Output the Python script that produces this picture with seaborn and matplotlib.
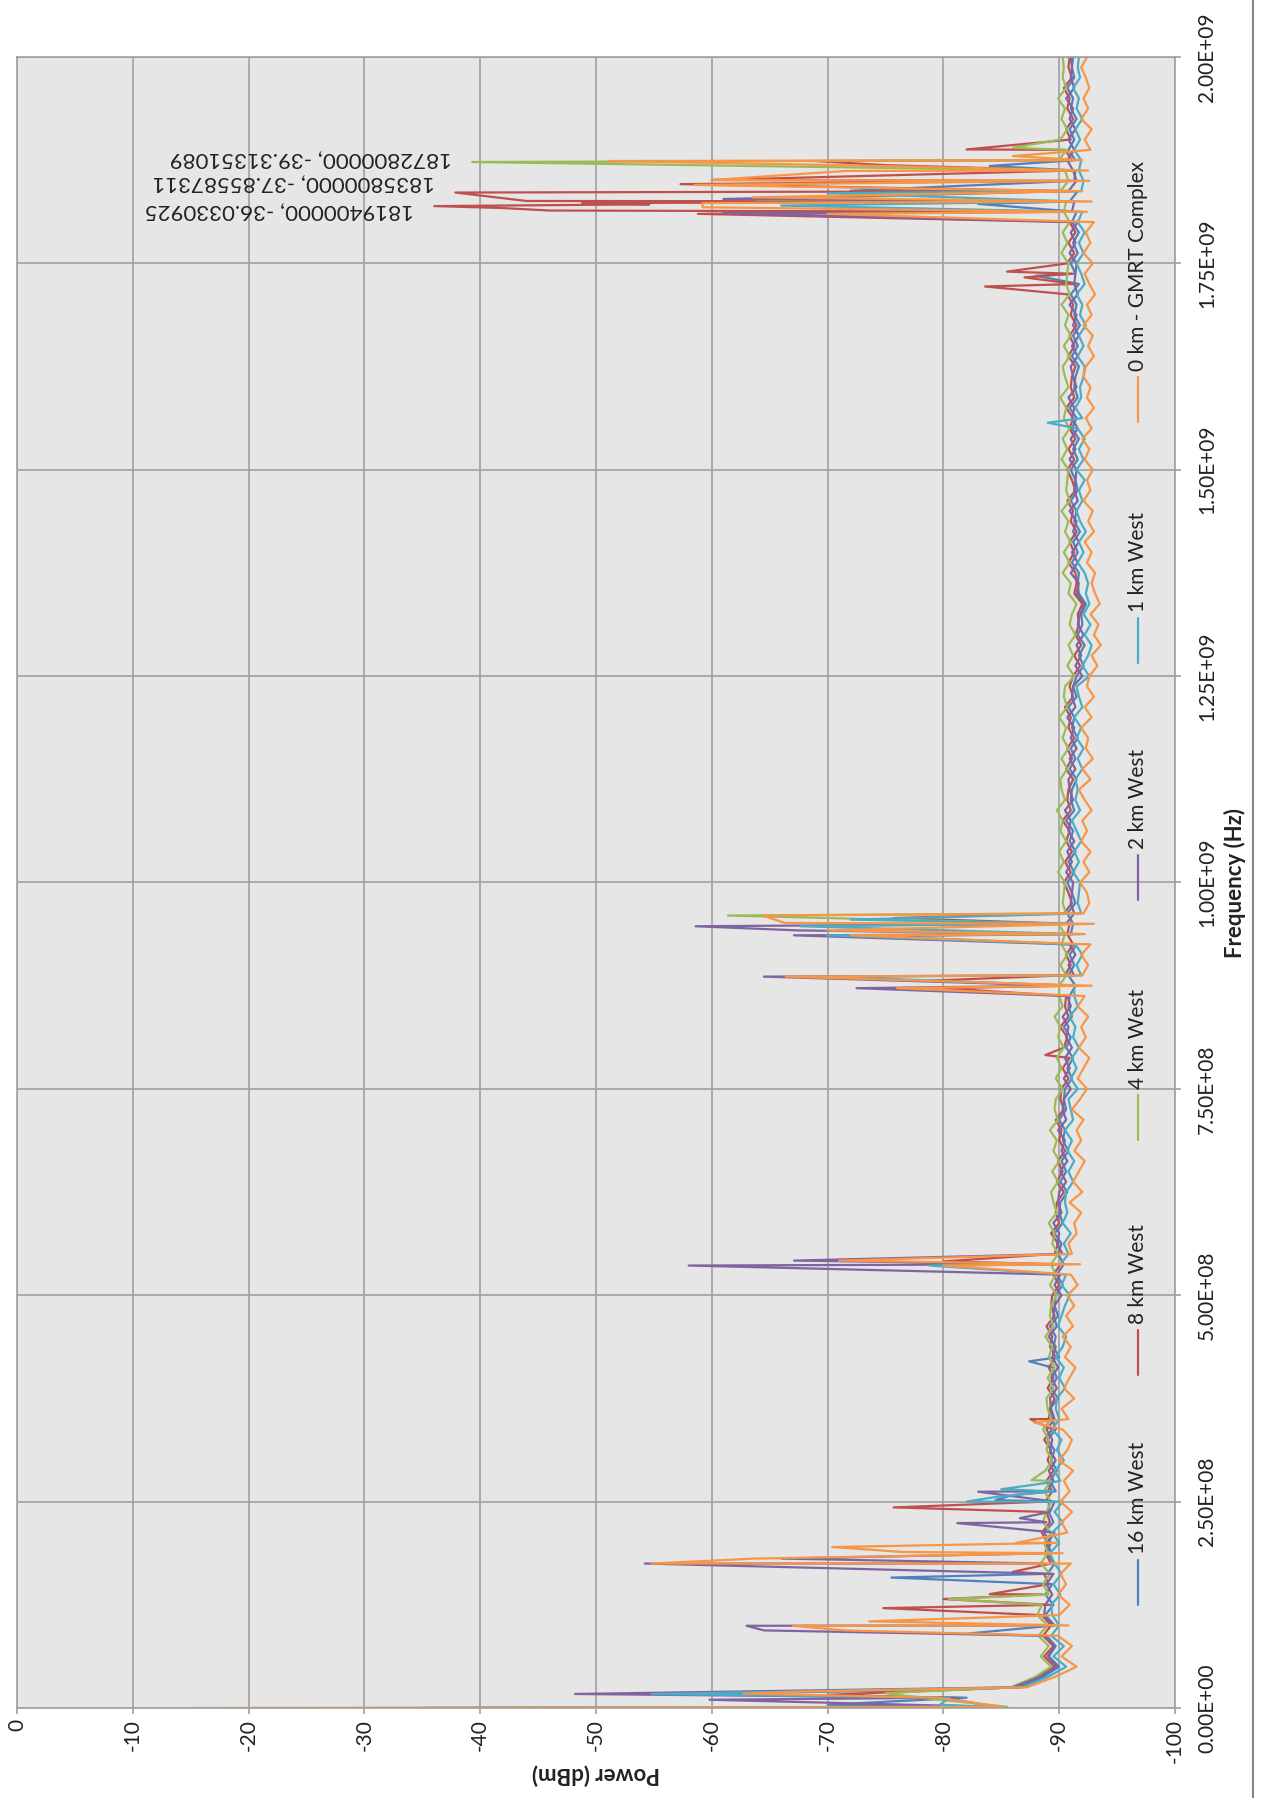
import numpy as np
import pandas as pd
import matplotlib
matplotlib.use("Agg")
import matplotlib.pyplot as plt
from matplotlib.lines import Line2D
import seaborn as sns

# ---------------------------------------------------------------- data
series_names = ["16 km West", "8 km West", "4 km West", "2 km West",
                "1 km West", "0 km - GMRT Complex"]
series_colors = ["#4F81BD", "#C0504D", "#9BBB59", "#8064A2", "#4BACC6", "#F79646"]

# sweep points (MHz), 12.5 MHz steps from 0 to 2 GHz
sweep_mhz = np.arange(0, 2000.1, 12.5)

base_16km = [
    -36.0, -82.0, -86.5, -88.6, -90.0, -89.1, -89.7, -88.9, -89.6, -88.8,
    -89.5, -88.8, -89.4, -89.0, -89.6, -88.9, -89.3, -88.7, -89.5, -89.1,
    -89.1, -89.7, -89.2, -89.8, -89.3, -89.6, -89.0, -89.7, -89.4, -89.2,
    -89.9, -89.3, -89.8, -89.4, -90.0, -89.5, -89.7, -89.2, -89.9, -89.6,
    -89.7, -90.3, -89.8, -90.4, -89.9, -90.2, -89.6, -90.3, -90.0, -90.1,
    -90.7, -90.1, -90.6, -90.2, -90.8, -90.3, -90.5, -90.0, -90.6, -90.4,
    -90.5, -91.1, -90.7, -91.2, -90.6, -91.0, -90.4, -91.1, -90.8, -90.9,
    -91.4, -90.8, -91.3, -90.9, -91.5, -91.0, -91.2, -90.7, -91.4, -91.1,
    -90.7, -91.3, -90.8, -91.4, -90.9, -91.2, -90.6, -91.3, -91.0, -91.1,
    -91.5, -90.9, -91.4, -91.0, -91.6, -91.1, -91.3, -90.8, -91.5, -91.2,
    -91.5, -92.1, -91.7, -92.2, -91.6, -92.0, -91.9, -92.3, -91.7, -91.6,
    -91.7, -91.1, -91.6, -91.2, -91.8, -91.3, -91.5, -91.0, -91.6, -91.4,
    -91.0, -91.6, -91.2, -91.7, -91.1, -91.5, -90.9, -91.6, -91.3, -91.4,
    -91.7, -91.1, -91.6, -91.2, -91.8, -91.3, -91.5, -91.0, -91.7, -91.4,
    -91.0, -91.6, -91.2, -91.7, -91.1, -91.5, -90.9, -91.6, -91.3, -91.4,
    -91.4, -90.8, -91.3, -90.9, -91.5, -91.0, -91.2, -90.7, -91.3, -91.1,
    -91.2,
]
base_8km = [
    -40.0, -80.0, -86.2, -88.1, -89.6, -88.7, -89.5, -88.6, -89.3, -88.5,
    -89.2, -88.6, -89.1, -88.7, -89.3, -88.8, -89.0, -88.5, -89.2, -88.9,
    -88.8, -89.4, -88.9, -89.5, -89.0, -89.3, -88.7, -89.4, -89.1, -89.2,
    -89.6, -89.0, -89.5, -89.1, -89.7, -89.2, -89.4, -88.9, -89.6, -89.3,
    -89.4, -90.0, -89.5, -90.1, -89.6, -89.9, -89.3, -90.0, -89.7, -89.8,
    -90.4, -89.8, -90.3, -89.9, -90.5, -90.0, -90.2, -89.7, -90.4, -90.1,
    -90.2, -90.8, -90.3, -90.9, -90.4, -90.7, -90.1, -90.8, -90.5, -90.6,
    -91.1, -90.5, -91.0, -90.6, -91.2, -90.7, -90.9, -90.4, -91.1, -90.8,
    -90.4, -91.0, -90.5, -91.1, -90.6, -90.9, -90.3, -91.0, -90.7, -90.8,
    -91.2, -90.6, -91.1, -90.7, -91.3, -90.8, -91.0, -90.5, -91.2, -90.9,
    -91.2, -91.8, -91.3, -91.9, -91.4, -91.7, -91.6, -92.0, -91.3, -91.5,
    -91.4, -90.8, -91.3, -90.9, -91.5, -91.0, -91.2, -90.7, -91.4, -91.1,
    -90.7, -91.3, -90.8, -91.4, -90.9, -91.2, -90.6, -91.3, -91.0, -91.1,
    -91.4, -90.8, -91.3, -90.9, -91.5, -91.0, -91.2, -90.7, -91.4, -91.1,
    -90.7, -91.3, -90.8, -91.4, -90.9, -91.2, -90.6, -91.3, -91.0, -91.1,
    -91.1, -90.5, -91.0, -90.6, -91.2, -90.7, -90.9, -90.4, -91.1, -90.8,
    -90.9,
]
base_4km = [
    -42.0, -78.0, -85.8, -87.9, -89.3, -88.4, -89.1, -88.2, -89.0, -88.1,
    -88.5, -89.1, -88.6, -89.2, -88.4, -89.0, -88.7, -89.3, -88.6, -88.9,
    -89.3, -88.7, -89.2, -88.8, -89.4, -88.9, -89.1, -88.6, -89.3, -89.0,
    -88.9, -89.5, -89.0, -89.6, -89.1, -89.4, -88.8, -89.5, -89.2, -89.3,
    -89.8, -89.2, -89.7, -89.3, -89.9, -89.4, -89.6, -89.1, -89.8, -89.5,
    -89.3, -89.9, -89.4, -90.0, -89.5, -89.8, -89.2, -89.9, -89.6, -89.7,
    -90.3, -89.7, -90.2, -89.8, -90.4, -89.9, -90.1, -89.6, -90.3, -90.0,
    -90.0, -90.6, -90.1, -90.7, -90.2, -90.5, -89.9, -90.6, -90.3, -90.4,
    -90.5, -89.9, -90.4, -90.0, -90.6, -90.1, -90.3, -89.8, -90.5, -90.2,
    -90.1, -90.7, -90.2, -90.8, -90.3, -90.6, -90.0, -90.7, -90.4, -90.5,
    -91.3, -90.7, -91.2, -90.8, -91.4, -90.9, -91.1, -91.5, -90.8, -91.0,
    -90.3, -90.9, -90.4, -91.0, -90.5, -90.8, -90.2, -90.9, -90.6, -90.7,
    -90.8, -90.2, -90.7, -90.3, -90.9, -90.4, -90.6, -90.1, -90.8, -90.5,
    -90.3, -90.9, -90.4, -91.0, -90.5, -90.8, -90.2, -90.9, -90.6, -90.7,
    -90.8, -90.2, -90.7, -90.3, -90.9, -90.4, -90.6, -90.1, -90.8, -90.5,
    -90.0, -90.6, -90.1, -90.7, -90.2, -90.5, -89.9, -90.6, -90.3, -90.4,
    -90.3,
]
base_2km = [
    -35.0, -81.0, -86.0, -88.3, -89.8, -89.0, -89.6, -88.8, -89.5, -88.7,
    -88.8, -89.4, -88.9, -89.5, -88.7, -89.3, -89.0, -89.6, -88.9, -89.2,
    -89.6, -89.0, -89.5, -89.1, -89.7, -89.2, -89.4, -88.9, -89.6, -89.3,
    -89.2, -89.8, -89.3, -89.9, -89.4, -89.7, -89.1, -89.8, -89.5, -89.6,
    -90.2, -89.6, -90.1, -89.7, -90.3, -89.8, -90.0, -89.5, -90.2, -89.9,
    -90.0, -90.6, -90.1, -90.7, -90.2, -90.5, -89.9, -90.6, -90.3, -90.4,
    -91.0, -90.4, -90.9, -90.5, -91.1, -90.6, -90.8, -90.3, -91.0, -90.7,
    -90.7, -91.3, -90.8, -91.4, -90.9, -91.2, -90.6, -91.3, -91.0, -91.1,
    -91.2, -90.6, -91.1, -90.7, -91.3, -90.8, -91.0, -90.5, -91.2, -90.9,
    -90.8, -91.4, -90.9, -91.5, -91.0, -91.3, -90.7, -91.4, -91.1, -91.2,
    -92.0, -91.4, -91.9, -91.5, -92.1, -91.6, -91.8, -92.2, -91.5, -91.7,
    -91.0, -91.6, -91.1, -91.7, -91.2, -91.5, -90.9, -91.6, -91.3, -91.4,
    -91.5, -90.9, -91.4, -91.0, -91.6, -91.1, -91.3, -90.8, -91.5, -91.2,
    -91.0, -91.6, -91.1, -91.7, -91.2, -91.5, -90.9, -91.6, -91.3, -91.4,
    -91.5, -90.9, -91.4, -91.0, -91.6, -91.1, -91.3, -90.8, -91.5, -91.2,
    -90.7, -91.3, -90.8, -91.4, -90.9, -91.2, -90.6, -91.3, -91.0, -91.1,
    -91.0,
]
base_1km = [
    -33.5, -80.5, -86.8, -89.0, -90.6, -89.5, -90.4, -89.3, -90.0, -89.4,
    -89.3, -90.1, -89.5, -90.2, -89.6, -89.2, -90.0, -89.4, -90.3, -89.6,
    -90.3, -89.5, -90.1, -89.6, -90.4, -89.8, -90.2, -89.4, -90.0, -89.7,
    -89.8, -90.5, -90.0, -90.4, -89.7, -90.3, -90.6, -89.9, -90.2, -90.5,
    -90.9, -90.2, -90.6, -90.1, -90.8, -90.4, -91.0, -90.3, -90.7, -90.5,
    -90.6, -91.2, -90.8, -91.3, -90.7, -91.1, -90.5, -91.2, -91.0, -90.8,
    -91.6, -91.0, -91.5, -91.1, -91.7, -91.2, -91.4, -90.9, -91.6, -91.3,
    -91.3, -91.9, -91.5, -92.0, -91.4, -91.8, -91.2, -91.9, -91.6, -91.7,
    -91.8, -91.2, -91.7, -91.3, -91.9, -91.5, -91.1, -91.8, -91.4, -91.6,
    -91.4, -92.0, -91.6, -92.1, -91.5, -91.9, -91.3, -92.0, -91.7, -91.5,
    -92.6, -92.0, -92.5, -92.8, -92.2, -92.7, -92.1, -92.6, -92.3, -92.5,
    -92.2, -91.6, -92.1, -91.7, -92.3, -91.8, -91.5, -92.0, -91.7, -92.2,
    -91.5, -92.1, -91.7, -92.2, -91.6, -92.0, -91.4, -91.9, -91.8, -92.1,
    -92.2, -91.6, -92.1, -91.7, -92.3, -91.8, -92.0, -91.5, -92.2, -91.9,
    -91.5, -92.1, -91.7, -92.2, -91.6, -92.0, -91.4, -91.9, -92.1, -91.7,
    -91.9, -91.3, -91.8, -91.4, -92.0, -91.5, -91.7, -91.2, -91.8, -91.6,
    -91.7,
]
base_0km = [
    -15.4, -79.5, -87.2, -89.6, -91.5, -90.2, -91.1, -89.9, -90.8, -90.0,
    -90.9, -89.9, -90.6, -90.1, -91.0, -90.3, -89.8, -90.7, -90.2, -91.1,
    -90.1, -90.9, -90.4, -91.2, -90.0, -90.7, -91.1, -90.3, -90.8, -90.2,
    -91.3, -90.4, -90.9, -91.4, -90.5, -91.0, -90.3, -91.2, -90.6, -91.3,
    -90.7, -91.6, -91.0, -91.8, -91.1, -90.8, -91.5, -91.3, -91.9, -90.9,
    -92.0, -91.2, -91.7, -92.2, -91.3, -91.9, -91.5, -92.1, -91.1, -91.8,
    -92.4, -91.6, -92.1, -92.6, -91.7, -92.3, -91.9, -92.5, -91.6, -92.2,
    -92.8, -92.0, -92.5, -91.9, -92.7, -92.2, -93.0, -92.1, -92.6, -92.4,
    -91.8, -92.6, -92.1, -92.7, -91.9, -92.4, -92.0, -92.8, -92.2, -91.7,
    -92.7, -92.0, -92.9, -92.3, -92.5, -91.9, -92.8, -92.2, -93.0, -92.4,
    -92.6, -93.3, -92.8, -93.6, -93.0, -93.4, -92.7, -93.5, -93.1, -92.8,
    -93.1, -92.4, -92.8, -92.2, -93.0, -92.5, -92.9, -92.1, -92.7, -92.4,
    -92.9, -92.2, -92.6, -92.0, -92.8, -92.3, -93.0, -92.4, -92.7, -92.1,
    -92.3, -93.0, -92.5, -92.9, -92.1, -92.8, -92.4, -93.1, -92.6, -92.2,
    -92.9, -92.1, -92.7, -92.3, -93.0, -92.4, -92.8, -92.0, -92.6, -92.5,
    -92.0, -92.7, -92.2, -92.8, -91.9, -92.5, -92.1, -92.6, -92.3, -91.9,
    -92.4,
]

# interference peaks per site: (frequency MHz, power dBm)
spikes_16km = [(1.5, -83.0), (4, -70.0), (17, -58.0), (22, -80.0), (90, -82.0),
               (158, -75.5), (252, -84.5), (258, -86.0), (420, -87.4),
               (935, -74.0), (1735, -88.0), (1822, -83.0), (1838, -72.0),
               (1868, -84.0)]
spikes_8km = [(1.5, -84.5), (16, -70.0), (121, -74.8), (132, -80.0), (138, -84.0),
              (165, -86.0), (243, -75.7), (350, -87.5), (541, -80.0), (791, -88.8),
              (872, -80.0), (881, -78.6), (957, -75.7), (1722, -83.6),
              (1733, -87.0), (1740, -85.5), (1810, -58.8), (1814, -46.0),
              (1817, -42.0), (1821.5, -54.6), (1823, -48.8), (1825.6, -44.0),
              (1846, -57.3), (1851, -60.0), (1869, -75.0), (1874, -68.9),
              (1888, -82.0)]
spikes_4km = [(1.5, -85.5), (18, -75.0), (132, -80.5), (276, -87.6), (960, -61.4),
              (1827, -64.0), (1890, -86.0)]
spikes_2km = [(1.5, -84.0), (10, -59.8), (17, -48.2), (94, -64.5), (99.6, -63.0),
              (175, -54.2), (181, -66.0), (224, -81.2), (230, -86.6), (262, -83.0),
              (536, -58.0), (542, -67.1), (872, -72.5), (886, -64.5), (936, -67.1),
              (942, -67.4), (947, -58.6), (1811, -61.0), (1828, -61.0)]
spikes_1km = [(1.5, -84.0), (4, -79.7), (17, -54.8), (250, -82.0), (256, -84.7),
              (265, -85.0), (536, -78.8), (886, -70.0), (936, -69.9), (947, -67.6),
              (955, -72.0), (1557, -89.0), (1820, -66.0), (1835, -70.0)]
spikes_0km = [(1.5, -85.0), (17.5, -62.7), (20, -68.0), (94, -71.5), (99.6, -67.0),
              (105, -73.6), (175, -54.8), (181, -63.7), (189, -76.5), (195, -70.4),
              (200, -86.3), (346, -87.8), (536, -80.0), (542, -71.0), (872, -76.0),
              (886, -66.4), (936, -72.0), (942, -70.0), (951, -66.3), (960, -64.4),
              (1810, -70.0), (1818, -59.2), (1823, -59.2), (1830, -63.5),
              (1840, -80.0), (1845, -58.5), (1851, -60.0), (1862, -71.6),
              (1869, -71.0), (1874, -51.1), (1880, -86.0)]

# labelled maxima (Hz, dBm) and the site each belongs to
peak_freq_hz = [1819400000, 1835800000, 1872800000]
peak_dbm = [-36.0330925, -37.85587311, -39.31351089]
peak_site = ["8 km West", "8 km West", "4 km West"]

baselines = [base_16km, base_8km, base_4km, base_2km, base_1km, base_0km]
spike_sets = [spikes_16km, spikes_8km, spikes_4km, spikes_2km, spikes_1km, spikes_0km]

rows = []
for name, base, spikes in zip(series_names, baselines, spike_sets):
    for f, p in zip(sweep_mhz, base):
        rows.append((name, f * 1e6, p))
    for f, p in spikes:
        rows.append((name, f * 1e6, p))
for f, p, site in zip(peak_freq_hz, peak_dbm, peak_site):
    rows.append((site, float(f), p))
df = pd.DataFrame(rows, columns=["site", "freq", "dbm"])

# ---------------------------------------------------------------- style
sns.set_style("white", {"axes.facecolor": "#e6e6e6",
                        "axes.edgecolor": "#a0a0a0",
                        "grid.color": "#a0a0a0"})
plt.rcParams["font.family"] = ["Lato", "DejaVu Sans"]
text_color = "#222222"

W, H = 1262, 1798
fig = plt.figure(figsize=(W / 100, H / 100), dpi=100)
fig.patch.set_facecolor("white")
ax = fig.add_axes([17 / W, 90 / H, 1158 / W, 1651 / H])

for name, color in zip(series_names, series_colors):
    d = df[df["site"] == name].sort_values("freq")
    sns.lineplot(x=d["dbm"].to_numpy(), y=d["freq"].to_numpy(), orient="y",
                 sort=False, estimator=None, color=color, lw=1.6, ax=ax,
                 legend=False)

# axes: power runs left-to-right (0 .. -100), frequency bottom-to-top
ax.set_xlim(0, -100)
ax.set_ylim(0, 2e9)
power_ticks = list(range(0, -101, -10))
freq_ticks = [i * 2.5e8 for i in range(9)]
ax.set_xticks(power_ticks)
ax.set_xticklabels([str(t) for t in power_ticks])
ax.set_yticks(freq_ticks)
ax.set_yticklabels([f"{t:.2E}" for t in freq_ticks])
ax.grid(True, color="#a0a0a0", lw=1.2)
ax.set_axisbelow(True)
for s in ax.spines.values():
    s.set_color("#a0a0a0")
    s.set_linewidth(1.2)

ax.yaxis.tick_right()
ax.tick_params(axis="x", bottom=True, top=False, direction="out", length=4,
               width=1.2, color="#a0a0a0", labelsize=15, labelcolor=text_color,
               labelrotation=90, pad=4)
ax.tick_params(axis="y", right=True, left=False, direction="out", length=4,
               width=1.2, color="#a0a0a0", labelsize=15, labelcolor=text_color,
               labelrotation=90, pad=12)
for lbl in ax.get_yticklabels():
    lbl.set_verticalalignment("center")
    lbl.set_horizontalalignment("left")

ax.set_xlabel("Power (dBm)", fontsize=16, fontweight="bold", color=text_color,
              rotation=180)
ax.xaxis.set_label_coords(0.5, -0.034)
ax.yaxis.set_label_position("right")
ax.set_ylabel("Frequency (Hz)", fontsize=16, fontweight="bold", color=text_color,
              rotation=90)
ax.yaxis.set_label_coords(1.042, 0.5)

# peak value labels
label_shift = [(-20, -5), (-20, 10), (-20, 3)]
for f, p, (dx, dy) in zip(peak_freq_hz, peak_dbm, label_shift):
    ax.annotate(f"{f}, {p}", xy=(p, f), xytext=(dx, dy),
                textcoords="offset pixels", rotation=180,
                rotation_mode="anchor", ha="left", va="center",
                fontsize=16, color=text_color)

# legend keys laid out along the frequency axis
legend_start = [0.0624, 0.2017, 0.344, 0.4894, 0.633, 0.779]
legend_x = 0.968
for name, color, y0 in zip(series_names, series_colors, legend_start):
    ax.add_line(Line2D([legend_x, legend_x], [y0, y0 + 0.027],
                       transform=ax.transAxes, color=color, lw=1.6))
    ax.text(legend_x, y0 + 0.031, name, transform=ax.transAxes, rotation=90,
            ha="center", va="bottom", fontsize=15, color=text_color)

# chart area border
fig.add_artist(Line2D([1253 / W, 1253 / W], [0, 1], transform=fig.transFigure,
                      color="#868686", lw=1.5))

fig.savefig("out.png", dpi=100)
